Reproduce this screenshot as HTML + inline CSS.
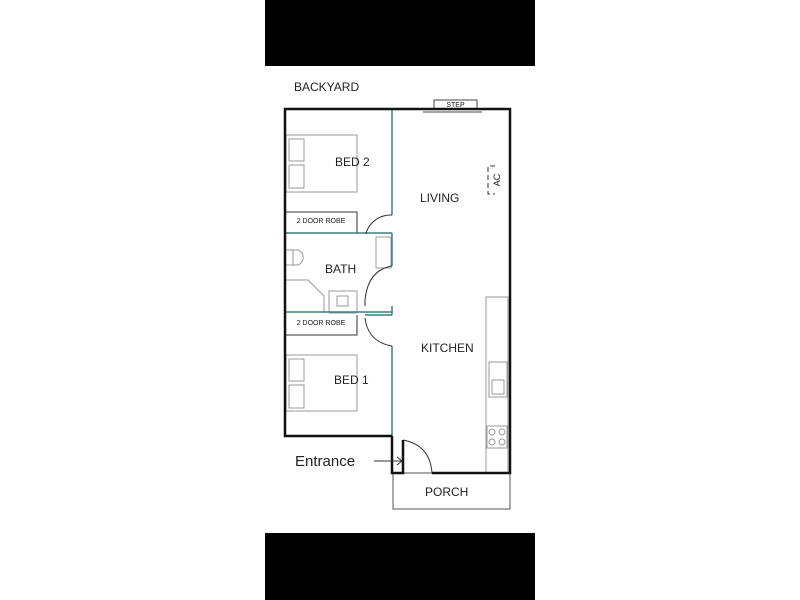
<!DOCTYPE html>
<html><head><style>body{margin:0;background:#fff}svg{display:block}text{font-family:"Liberation Sans",sans-serif;fill:#222}</style></head><body>
<svg width="800" height="600" viewBox="0 0 800 600">
<rect x="265" y="0" width="270" height="66" fill="#000"/>
<rect x="265" y="533" width="270" height="67" fill="#000"/>
<text x="294" y="91" font-size="12">BACKYARD</text>
<!-- step -->
<rect x="434" y="100" width="43" height="9" fill="#fff" stroke="#444" stroke-width="1"/>
<text x="455.5" y="107" font-size="7" text-anchor="middle">STEP</text>
<line x1="423" y1="112" x2="482" y2="112" stroke="#444"/>
<!-- furniture gray -->
<g fill="none" stroke="#999" stroke-width="1">
<rect x="286" y="135" width="71" height="57"/>
<rect x="289" y="139" width="15" height="22"/><rect x="289" y="165" width="15" height="23"/>
<rect x="286" y="355" width="71" height="56"/>
<rect x="289" y="359" width="15" height="22"/><rect x="289" y="385" width="15" height="23"/>
<rect x="376" y="237" width="15" height="31"/>
<path d="M286 250 H298 A8 8 0 0 1 298 265 H286"/><line x1="293" y1="250" x2="293" y2="265"/>
<path d="M286 280 H308 L324 296 V313"/>
<rect x="329" y="291" width="28" height="22"/><rect x="337" y="296" width="11" height="10"/>
<line x1="486" y1="297" x2="486" y2="473"/>
<rect x="486" y="297" width="22" height="176"/>
<rect x="489" y="362" width="18" height="35"/><rect x="492" y="380" width="12" height="14"/>
<rect x="487" y="426" width="20" height="22"/>
<circle cx="492" cy="432" r="3"/><circle cx="502" cy="432" r="3"/><circle cx="492" cy="442" r="3"/><circle cx="502" cy="442" r="3"/>
</g>
<!-- robes -->
<g fill="none" stroke="#333" stroke-width="1">
<path d="M286 212 H357 V234"/><path d="M286 335 H357 V315"/>
<rect x="393" y="473" width="117" height="36" stroke="#555"/>
</g>
<text x="321" y="223" font-size="7" text-anchor="middle">2 DOOR ROBE</text>
<text x="321" y="325" font-size="7" text-anchor="middle">2 DOOR ROBE</text>
<!-- teal walls -->
<g stroke="#3d7f80" stroke-width="1.5" fill="none">
<line x1="392" y1="109" x2="392" y2="215"/>
<line x1="286" y1="233" x2="392" y2="233"/><line x1="392" y1="233" x2="392" y2="266"/>
<line x1="286" y1="312" x2="392" y2="312"/><line x1="365" y1="315" x2="392" y2="315"/>
<line x1="392" y1="315" x2="392" y2="306"/>
<line x1="392" y1="346" x2="392" y2="436"/>
</g>
<!-- door arcs -->
<g stroke="#333" stroke-width="1" fill="none">
<path d="M392 215 A26 26 0 0 0 366 233 V234"/>
<path d="M392 266 Q368 270 365 300 V306"/>
<path d="M365 318 Q368 342 392 346"/>
<path d="M403 440 Q430 445 432 473"/>
</g>
<!-- outer walls -->
<g stroke="#111" stroke-width="2.5" fill="none">
<path d="M392 436 H285 V109 H510 V473 H432"/>
<path d="M392 436 V473 H403 V440"/>
</g>
<!-- AC -->
<path d="M495 166 H488 V194 H495" stroke="#333" fill="none" stroke-dasharray="5,3"/>
<text x="0" y="0" font-size="9" transform="translate(500,180) rotate(-90)" text-anchor="middle">AC</text>
<text x="335" y="166" font-size="12">BED 2</text>
<text x="420" y="202" font-size="12">LIVING</text>
<text x="325" y="273" font-size="12">BATH</text>
<text x="421" y="352" font-size="12">KITCHEN</text>
<text x="334" y="384" font-size="12">BED 1</text>
<text x="295" y="466" font-size="15">Entrance</text>
<line x1="374" y1="461" x2="402" y2="461" stroke="#333"/>
<path d="M397 457 L402 461 L397 465" stroke="#333" fill="none"/>
<text x="425" y="496" font-size="12">PORCH</text>
</svg>
</body></html>
